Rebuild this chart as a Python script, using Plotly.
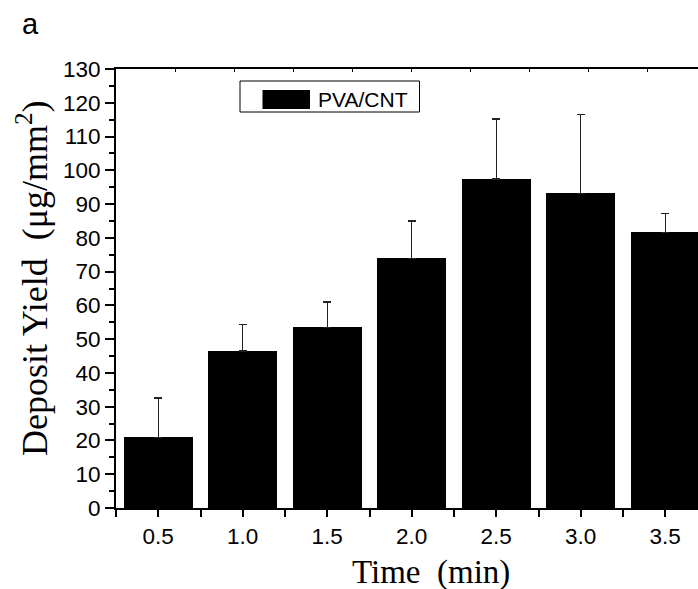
import plotly.graph_objects as go

# ---- data ----
times = [0.5, 1.0, 1.5, 2.0, 2.5, 3.0, 3.5]
yield_mean = [20.9, 46.5, 53.5, 74.0, 97.4, 93.2, 81.6]
yield_err_top = [32.6, 54.3, 61.0, 85.0, 115.2, 116.5, 87.2]
series_name = "PVA/CNT"
x_tick_vals = [0.5, 1.0, 1.5, 2.0, 2.5, 3.0, 3.5]
x_tick_text = ["0.5", "1.0", "1.5", "2.0", "2.5", "3.0", "3.5"]

W, H = 698, 589
PLOT_L, PLOT_R, PLOT_T, PLOT_B = 116, 698, 69, 508  # pixels
L, T = PLOT_L, PLOT_T
R = W - PLOT_R
B = H - PLOT_B
PW, PH = PLOT_R - PLOT_L, PLOT_B - PLOT_T

def px_x(p):
    return (p - PLOT_L) / PW

def px_y(p):
    return (PLOT_B - p) / PH

err_plus = [t - m for t, m in zip(yield_err_top, yield_mean)]

SANS = "Liberation Sans, Arial, sans-serif"
SERIF = "Liberation Serif, Times New Roman, serif"

fig = go.Figure()
fig.add_trace(go.Bar(
    x=times, y=yield_mean, width=0.41, name=series_name,
    marker=dict(color="black", line=dict(width=0)),
    error_y=dict(type="data", symmetric=False, array=err_plus,
                 arrayminus=[0] * len(err_plus), color="#222222",
                 thickness=1.2, width=4),
    showlegend=False,
))

x_px_per_unit = 169.0
fig.update_layout(
    width=W, height=H, autosize=False,
    margin=dict(l=L, r=R, t=T, b=B, pad=0),
    paper_bgcolor="white", plot_bgcolor="white",
    font=dict(family=SANS, size=22, color="black"),
    xaxis=dict(
        range=[0.25, 0.25 + PW / x_px_per_unit],
        tickvals=x_tick_vals, ticktext=x_tick_text,
        ticks="outside", ticklen=7, tickwidth=1.5, tickcolor="black",
        minor=dict(dtick=0.25, tick0=0.25, ticks="outside", ticklen=7,
                   tickwidth=1.5, tickcolor="black"),
        showline=True, linewidth=2, linecolor="black",
        showgrid=False, zeroline=False,
        tickfont=dict(family=SANS, size=22.5, color="black"),
    ),
    xaxis2=dict(
        overlaying="x", side="top", anchor="y",
        range=[0, PW / 59.0], dtick=1, tick0=0,
        ticks="inside", ticklen=3, tickwidth=1, tickcolor="black",
        showticklabels=False, showline=True, linewidth=1.5,
        linecolor="black", showgrid=False, zeroline=False,
    ),
    yaxis=dict(
        range=[0, 130], dtick=10, tick0=0,
        ticks="outside", ticklen=9, tickwidth=1.5, tickcolor="black",
        minor=dict(dtick=5, ticks="outside", ticklen=5, tickwidth=1.5,
                   tickcolor="black"),
        showline=True, linewidth=2, linecolor="black",
        showgrid=False, zeroline=False,
        tickfont=dict(family=SANS, size=22.5, color="black"),
    ),
    bargap=0,
)
# empty trace so the top axis is drawn
fig.add_trace(go.Scatter(x=[], y=[], xaxis="x2", yaxis="y", showlegend=False))

# legend box drawn by hand to match the wide swatch
fig.add_shape(type="rect", xref="paper", yref="paper",
              x0=px_x(240), x1=px_x(419.5), y0=px_y(112), y1=px_y(81),
              line=dict(color="black", width=1), fillcolor="white", layer="above")
fig.add_shape(type="rect", xref="paper", yref="paper",
              x0=px_x(262.5), x1=px_x(310), y0=px_y(109), y1=px_y(90),
              line=dict(width=0), fillcolor="black", layer="above")
fig.add_annotation(xref="paper", yref="paper", x=px_x(316), y=px_y(99.5),
                   text=series_name, showarrow=False, xanchor="left", yanchor="middle",
                   font=dict(family=SANS, size=21, color="black"))

# axis titles
fig.add_annotation(xref="paper", yref="paper", x=px_x(430.5), y=px_y(572),
                   text="Time\u00a0\u00a0(min)", showarrow=False,
                   xanchor="center", yanchor="middle",
                   font=dict(family=SERIF, size=33, color="black"))
fig.add_annotation(xref="paper", yref="paper", x=px_x(32), y=px_y(278),
                   text="Deposit Yield\u00a0\u00a0(\u03bcg/mm<sup>2</sup>)", showarrow=False,
                   textangle=-90, xanchor="center", yanchor="middle",
                   font=dict(family=SERIF, size=36, color="black"))
# panel label
fig.add_annotation(xref="paper", yref="paper", x=px_x(20), y=px_y(24),
                   text="a", showarrow=False, xanchor="left", yanchor="middle",
                   font=dict(family=SANS, size=29, color="black"))

fig.write_html("out.html", config={"responsive": False, "displayModeBar": False},
               post_script="document.body.style.margin='0';document.body.style.overflow='hidden';")
